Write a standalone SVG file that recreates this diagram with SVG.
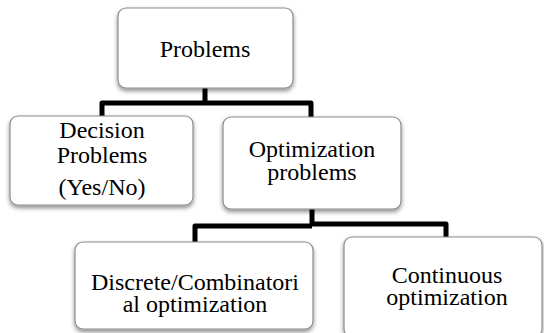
<svg xmlns="http://www.w3.org/2000/svg" width="544" height="333" viewBox="0 0 544 333">
<style>
.box{fill:#fff;stroke:#8c8c8c;stroke-width:1.2;filter:url(#sh)}
.t{font-family:"Liberation Serif","Times New Roman",serif;font-size:24px;fill:#000;text-anchor:middle}
.c{fill:none;stroke:#000;stroke-width:5;stroke-linejoin:round}
</style>
<defs>
<filter id="sh" x="-10%" y="-10%" width="120%" height="130%">
<feDropShadow dx="0" dy="2.5" stdDeviation="2" flood-color="#000" flood-opacity="0.45"/>
</filter>
</defs>
<rect width="544" height="333" fill="#fff"/>
<g id="connectors">
<path class="c" d="M205 88 V103 M102 116 V103 H311 V117"/>
<path class="c" d="M312 209 V225 M195 242 V226 H312 M312 224 H446 V237"/>
</g>
<g id="problems">
<rect class="box" x="118" y="8" width="175" height="80" rx="8"/>
<text class="t" x="205" y="57">Problems</text>
</g>
<g id="decision">
<rect class="box" x="10" y="116" width="183" height="89" rx="8"/>
<text class="t" x="102" y="138">Decision</text>
<text class="t" x="102" y="163">Problems</text>
<text class="t" x="102" y="195">(Yes/No)</text>
</g>
<g id="optimization">
<rect class="box" x="223" y="117" width="178" height="92" rx="8"/>
<text class="t" x="312" y="157">Optimization</text>
<text class="t" x="312" y="180">problems</text>
</g>
<g id="discrete">
<rect class="box" x="75" y="242" width="238" height="87" rx="8"/>
<text class="t" x="195" y="290">Discrete/Combinatori</text>
<text class="t" x="195" y="312">al optimization</text>
</g>
<g id="continuous">
<rect class="box" x="344" y="237" width="198" height="100" rx="8"/>
<text class="t" x="447" y="283">Continuous</text>
<text class="t" x="447" y="305">optimization</text>
</g>
</svg>
